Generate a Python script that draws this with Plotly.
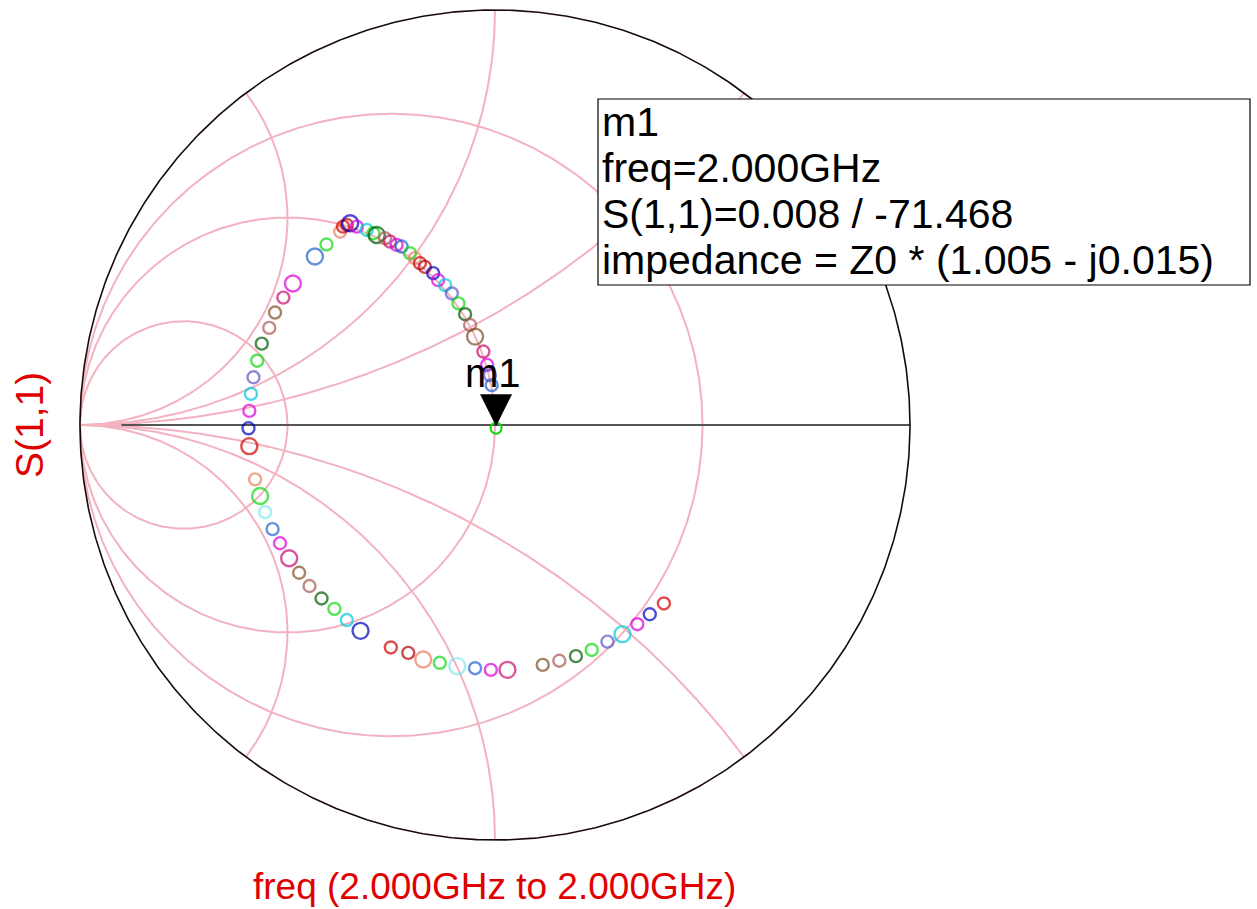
import numpy as np
import plotly.graph_objects as go

# ---------------------------------------------------------------------------
# Data: S(1,1) at 2.000 GHz for each swept case (reflection coefficient)
# ---------------------------------------------------------------------------
s11_re = [0.407, 0.373, 0.343, 0.307, 0.271, 0.233, 0.195, 0.155, 0.115,
          0.030, -0.010, -0.048, -0.091, -0.133, -0.173, -0.209, -0.251,
          -0.324, -0.357, -0.387, -0.418, -0.447, -0.472, -0.496, -0.518,
          -0.536, -0.554, -0.566, -0.578, -0.592, -0.594, -0.592, -0.588,
          -0.582, -0.573, -0.562, -0.544, -0.530, -0.510, -0.487, -0.434,
          -0.406, -0.373, -0.366, -0.357, -0.349, -0.333, -0.309, -0.293,
          -0.285, -0.265, -0.253, -0.237, -0.225, -0.205, -0.193, -0.181,
          -0.169, -0.149, -0.137, -0.120, -0.104, -0.088, -0.072, -0.060,
          -0.048, -0.028, -0.019, -0.012, -0.008]
s11_im = [-0.430, -0.456, -0.480, -0.504, -0.522, -0.542, -0.557, -0.568,
          -0.578, -0.590, -0.590, -0.586, -0.581, -0.573, -0.565, -0.549,
          -0.536, -0.496, -0.470, -0.443, -0.418, -0.388, -0.356, -0.321,
          -0.285, -0.251, -0.210, -0.171, -0.131, -0.051, -0.008, 0.034,
          0.075, 0.115, 0.155, 0.196, 0.234, 0.271, 0.307, 0.341, 0.406,
          0.435, 0.466, 0.478, 0.482, 0.486, 0.478, 0.470, 0.462, 0.458,
          0.450, 0.442, 0.434, 0.430, 0.414, 0.402, 0.390, 0.381, 0.366,
          0.349, 0.337, 0.317, 0.293, 0.267, 0.241, 0.213, 0.177, 0.145,
          0.120, 0.096]
point_color = ["red", "navy", "magenta", "cyan", "slate", "green", "dkgreen",
               "rosy", "brown", "pink", "magenta", "steel", "ltcyan", "green",
               "salmon", "dkred", "red", "navy", "cyan", "green", "dkgreen",
               "rosy", "brown", "pink", "magenta", "steel", "ltcyan", "green",
               "salmon", "red", "navy", "magenta", "cyan", "slate", "green",
               "dkgreen", "rosy", "brown", "pink", "magenta", "steel", "green",
               "salmon", "red", "red", "navy", "magenta", "cyan", "green",
               "dkgreen", "rosy", "pink", "magenta", "steel", "green",
               "salmon", "red", "dkred", "navy", "magenta", "cyan", "slate",
               "green", "dkgreen", "rosy", "brown", "pink", "magenta", "slate",
               "steel"]
point_large = [0, 0, 0, 1, 0, 0, 0, 0, 0, 1, 0, 0, 1, 0, 1, 0, 0, 1, 0, 0,
               0, 0, 0, 1, 0, 0, 0, 1, 0, 1, 0, 0, 0, 0, 0, 0, 0, 0, 0, 1,
               1, 0, 0, 0, 0, 1, 0, 0, 0, 1, 0, 0, 0, 0, 0, 0, 0, 0, 0, 0,
               0, 0, 0, 0, 0, 1, 0, 0, 0, 0]

# Marker m1 readout
m1_name = "m1"
m1_freq = "2.000GHz"
m1_mag = 0.008
m1_ang_deg = -71.468
m1_z_re = 1.005
m1_z_im = -0.015

# Smith chart grid (admittance form)
conductance_circles = [1 / 3, 1.0, 3.0]
susceptance_arcs = [0.5, 1.0, 2.0]

# ---------------------------------------------------------------------------
# Styling
# ---------------------------------------------------------------------------
PALETTE = {
    "red": "#d00000", "navy": "#0000c0", "magenta": "#d800d8",
    "cyan": "#00cad8", "slate": "#6058c8", "green": "#10d810",
    "dkgreen": "#005a00", "rosy": "#a85a52", "brown": "#805028",
    "pink": "#c8106c", "steel": "#2262d0", "ltcyan": "#80e8ec",
    "salmon": "#e88060", "dkred": "#b4000a",
}
GRID = "#f2b2c0"
FONT = "Liberation Sans, Arial, sans-serif"
LABEL_RED = "#e00000"

W, H = 1257, 909
CX, CY, R = 495, 425, 415   # chart centre and radius in pixels


def px(x):
    return x / W


def py(y):
    return 1 - y / H


fig = go.Figure()

# conductance circles
th = np.linspace(0, 2 * np.pi, 721)
for g in conductance_circles:
    c, r = -g / (1 + g), 1 / (1 + g)
    fig.add_trace(go.Scatter(x=c + r * np.cos(th), y=r * np.sin(th), mode="lines",
                             line=dict(color=GRID, width=2), hoverinfo="skip"))

# susceptance arcs, y = s + jb for s >= 0
phi = np.linspace(0, np.pi / 2 * 0.9995, 900)
s = np.tan(phi)
for b in susceptance_arcs:
    for sign in (1, -1):
        yv = s + 1j * sign * b
        gam = (1 - yv) / (1 + yv)
        fig.add_trace(go.Scatter(x=gam.real, y=gam.imag, mode="lines",
                                 line=dict(color=GRID, width=2), hoverinfo="skip"))

# real axis
fig.add_trace(go.Scatter(x=[-1, 1], y=[0, 0], mode="lines",
                         line=dict(color=GRID, width=2), hoverinfo="skip"))
fig.add_trace(go.Scatter(x=[-0.9, 1], y=[0, 0], mode="lines",
                         line=dict(color="#555555", width=2), hoverinfo="skip"))

# outer boundary |S| = 1
fig.add_trace(go.Scatter(x=np.cos(th), y=np.sin(th), mode="lines",
                         line=dict(color="#1a0a0a", width=1.6), hoverinfo="skip"))

# swept S(1,1) points
fig.add_trace(go.Scatter(
    x=s11_re, y=s11_im, mode="markers",
    marker=dict(symbol="circle-open",
                size=[16 if big else 12 for big in point_large],
                color=[PALETTE[c] for c in point_color],
                line=dict(width=2.4)),
    hoverinfo="skip"))

# marker m1 point
m1_re = m1_mag * np.cos(np.radians(m1_ang_deg))
m1_im = m1_mag * np.sin(np.radians(m1_ang_deg))
fig.add_trace(go.Scatter(x=[m1_re], y=[m1_im], mode="markers",
                         marker=dict(symbol="circle-open", size=11,
                                     color=PALETTE["green"], line=dict(width=2)),
                         hoverinfo="skip"))

shapes = [
    # marker arrow pointing down at m1
    dict(type="path", xref="x", yref="y", xsizemode="pixel", ysizemode="pixel",
         xanchor=m1_re, yanchor=m1_im, path="M -16 34 L 16 34 L 0 2 Z",
         fillcolor="black", line=dict(width=0), layer="above"),
    # marker readout box
    dict(type="rect", xref="paper", yref="paper",
         x0=px(598), x1=px(1250), y0=py(285), y1=py(99),
         fillcolor="white", line=dict(color="black", width=1.2), layer="above"),
]

readout = [
    m1_name,
    f"freq={m1_freq}",
    f"S(1,1)={m1_mag:.3f} / {m1_ang_deg:.3f}",
    f"impedance = Z0 * ({m1_z_re:.3f} - j{abs(m1_z_im):.3f})",
]
line_y = [122, 168, 214, 260]

annotations = []
for txt, yy in zip(readout, line_y):
    annotations.append(dict(text=txt, xref="paper", yref="paper", x=px(600), y=py(yy),
                            xanchor="left", yanchor="middle", showarrow=False,
                            font=dict(family=FONT, size=41, color="black")))

annotations.append(dict(text=m1_name, xref="x", yref="y", x=m1_re, y=m1_im,
                        yshift=55, xshift=-3, xanchor="center", yanchor="middle",
                        showarrow=False, font=dict(family=FONT, size=40, color="black")))
annotations.append(dict(text="S(1,1)", xref="paper", yref="paper", x=px(30), y=py(425),
                        xanchor="center", yanchor="middle", textangle=-90, showarrow=False,
                        font=dict(family=FONT, size=39, color=LABEL_RED)))
annotations.append(dict(text=f"freq ({m1_freq} to {m1_freq})", xref="paper", yref="paper",
                        x=px(494), y=py(886), xanchor="center", yanchor="middle",
                        showarrow=False, font=dict(family=FONT, size=37, color=LABEL_RED)))

fig.update_layout(
    width=W, height=H, autosize=False,
    margin=dict(l=0, r=0, t=0, b=0),
    paper_bgcolor="white", plot_bgcolor="white",
    showlegend=False,
    xaxis=dict(range=[-CX / R, (W - CX) / R], visible=False, fixedrange=True),
    yaxis=dict(range=[-(H - CY) / R, CY / R], visible=False, fixedrange=True),
    shapes=shapes, annotations=annotations,
)

fig.write_html("out.html")
